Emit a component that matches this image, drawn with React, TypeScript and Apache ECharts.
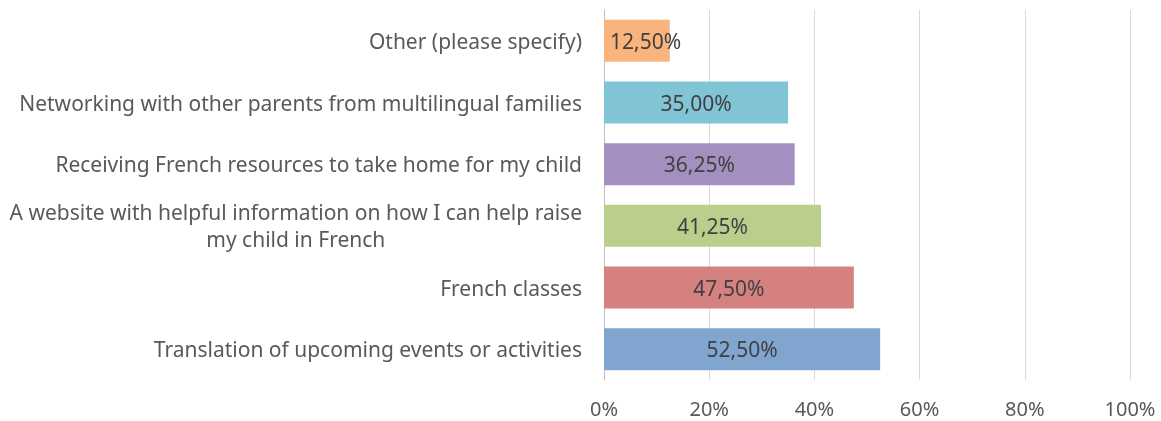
import React, { useEffect, useRef } from "react";
import * as echarts from "echarts";

const categories = [
  "Other (please specify)",
  "Networking with other parents from multilingual families",
  "Receiving French resources to take home for my child",
  "A website with helpful information on how I can help raise\nmy child in French",
  "French classes",
  "Translation of upcoming events or activities",
];
const values = [0.125, 0.35, 0.3625, 0.4125, 0.475, 0.525];
const barColors = ["#F9B37D", "#80C4D6", "#A490C0", "#BBCF8D", "#D48180", "#80A6D0"];
const xTicks = [0, 0.2, 0.4, 0.6, 0.8, 1];

const FONT = "'Noto Sans', sans-serif";

export default function App() {
  const ref = useRef<HTMLDivElement>(null);
  useEffect(() => {
    if (!ref.current) return;
    const chart = echarts.init(ref.current, undefined, { renderer: "svg" });
    chart.setOption({
      animation: false,
      textStyle: { fontFamily: FONT },
      grid: { left: 604, right: 31, top: 10, bottom: 41, containLabel: false },
      xAxis: {
        type: "value",
        min: xTicks[0],
        max: xTicks[xTicks.length - 1],
        interval: 0.2,
        axisLine: { show: false },
        axisTick: { show: false },
        splitLine: { lineStyle: { color: "#d9d9d9", width: 1 } },
        axisLabel: {
          color: "#595959",
          fontSize: 20,
          fontFamily: FONT,
          margin: 18,
          formatter: (v: number) => Math.round(v * 100) + "%",
        },
      },
      yAxis: {
        type: "category",
        inverse: true,
        data: categories,
        axisLine: { show: true, lineStyle: { color: "#bfbfbf", width: 1 } },
        axisTick: { show: false },
        axisLabel: {
          color: "#595959",
          fontSize: 21,
          fontFamily: FONT,
          margin: 22,
          lineHeight: 27,
          formatter: (v: string) =>
            v
              .split("\n")
              .map((s) => "{c|" + s + "}")
              .join("\n"),
          rich: { c: { align: "center", color: "#595959", fontSize: 21, fontFamily: FONT, lineHeight: 27 } },
        },
      },
      series: [
        {
          type: "bar",
          data: values.map((v, i) => ({
            value: v,
            itemStyle: { color: barColors[i] },
            label: v < 0.2 ? { position: "insideLeft", distance: 6 } : undefined,
          })),
          barCategoryGap: "32%",
          label: {
            show: true,
            position: "inside",
            color: "#404040",
            fontSize: 21,
            fontFamily: FONT,
            formatter: (p: any) => (p.value * 100).toFixed(2).replace(".", ",") + "%",
          },
        },
      ],
    });
    return () => chart.dispose();
  }, []);
  return <div ref={ref} style={{ position: "fixed", left: 0, top: 0, width: 1161, height: 421 }} />;
}
